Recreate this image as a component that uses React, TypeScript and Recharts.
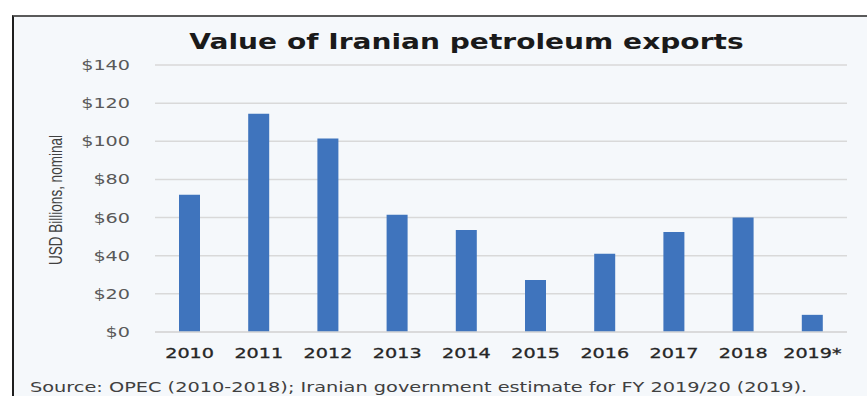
import React from 'react';
import { BarChart, Bar, XAxis, YAxis, CartesianGrid } from 'recharts';

const years = ['2010', '2011', '2012', '2013', '2014', '2015', '2016', '2017', '2018', '2019*'];
const exportsValue = [72, 114.5, 101.5, 61.5, 53.5, 27.3, 41, 52.5, 60, 9];
const yTicks = [0, 20, 40, 60, 80, 100, 120, 140];

const titleText = 'Value of Iranian petroleum exports';
const yLabelText = 'USD Billions, nominal';
const sourceText = 'Source: OPEC (2010-2018); Iranian government estimate for FY 2019/20 (2019).';

const data = years.map((y, i) => ({ year: y, value: exportsValue[i] }));

const fmt = (v: number) => `$${v}`;
const SX = 1.37;

const XTick = (props: any) => {
  const { x, y, payload } = props;
  return (
    <text
      x={0}
      y={0}
      transform={`translate(${x},${y}) scale(${SX},1)`}
      textAnchor="middle"
      fill="#262626"
      fontFamily="DejaVu Sans"
      fontSize={14}
      stroke="#262626"
      strokeWidth={0.3}
    >
      {payload.value}
    </text>
  );
};

const YTick = (props: any) => {
  const { x, y, payload } = props;
  return (
    <text
      x={0}
      y={0}
      dy={5}
      transform={`translate(${x},${y}) scale(${SX},1)`}
      textAnchor="end"
      fill="#595959"
      fontFamily="DejaVu Sans"
      fontSize={14}
    >
      {fmt(payload.value)}
    </text>
  );
};

export default function App() {
  return (
    <div style={{ position: 'absolute', left: 0, top: 0, width: 867, height: 396, overflow: 'hidden', background: '#fff' }}>
      <style>{'html,body{overflow:hidden;}'}</style>
      <div
        style={{
          position: 'absolute',
          left: 12,
          top: 15,
          width: 870,
          height: 400,
          background: '#F5F8FB',
          borderLeft: '2px solid #1e1e1e',
          borderTop: '2px solid #5a5a5a',
        }}
      />
      <div style={{ position: 'absolute', left: 0, top: 0 }}>
        <BarChart width={867} height={396} data={data} margin={{ top: 65, right: 20, bottom: 34, left: 0 }}>
          <CartesianGrid vertical={false} stroke="#D9D9D9" strokeWidth={1.5} />
          <XAxis
            dataKey="year"
            axisLine={{ stroke: '#D9D9D9', strokeWidth: 1.5 }}
            tickLine={false}
            tickSize={0}
            height={30}
            tickMargin={26}
            tick={<XTick />}
            interval={0}
          />
          <YAxis
            width={155}
            domain={[0, 140]}
            ticks={yTicks}
            axisLine={false}
            tickLine={false}
            tickSize={0}
            tickMargin={25}
            tick={<YTick />}
          />
          <Bar dataKey="value" fill="#3F74BD" barSize={21} isAnimationActive={false} />
        </BarChart>
      </div>
      <svg width={867} height={396} style={{ position: 'absolute', left: 0, top: 0, pointerEvents: 'none' }}>
        <text
          x={0}
          y={0}
          transform={`translate(466.5,48.5) scale(${SX},1)`}
          textAnchor="middle"
          fontFamily="DejaVu Sans"
          fontWeight="bold"
          fontSize={20.5}
          fill="#1a1a1a"
        >
          {titleText}
        </text>
        <text
          x={0}
          y={0}
          transform={`translate(55,200) scale(${SX},1) rotate(-90)`}
          textAnchor="middle"
          dominantBaseline="central"
          fontFamily="Liberation Sans"
          fontSize={13.5}
          fill="#404040"
        >
          {yLabelText}
        </text>
        <text
          x={0}
          y={0}
          transform={`translate(30,392) scale(1.38,1)`}
          textAnchor="start"
          fontFamily="DejaVu Sans"
          fontSize={14}
          fill="#404040"
        >
          {sourceText}
        </text>
      </svg>
    </div>
  );
}
